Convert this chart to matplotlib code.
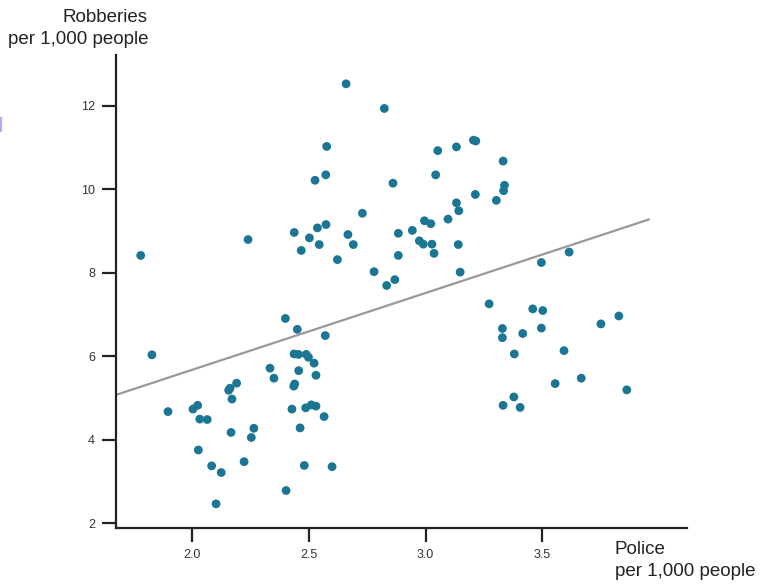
import numpy as np
import matplotlib.pyplot as plt
from matplotlib.lines import Line2D

# police per 1,000 people vs robberies per 1,000 people
police = [
    2.659, 2.823, 2.576, 2.526, 2.572, 2.860, 2.729, 2.437, 2.536, 2.573,
    2.502, 2.667, 2.544, 2.467, 2.690, 2.622, 2.239, 1.779, 2.779, 2.833,
    2.868, 2.883, 2.883,
    3.052, 3.132, 3.205, 3.215, 3.332, 3.043, 3.338, 3.334, 3.213, 3.303,
    3.132, 3.142, 3.096, 2.995, 3.022, 2.943, 2.973, 2.990, 3.027, 3.140,
    3.036, 3.148, 3.496, 3.615,
    1.827, 2.399, 2.450, 2.570, 2.436, 2.455, 2.488, 2.498, 2.522, 2.333,
    2.456, 2.530, 2.350, 2.439, 2.435, 2.190, 2.162, 2.156, 2.170, 1.896,
    2.003, 2.023, 2.032, 2.064, 2.427, 2.486, 2.510, 2.530, 2.565, 2.462,
    2.264, 2.253, 2.166, 2.026, 2.222, 2.083, 2.124, 2.480, 2.599, 2.402,
    2.102,
    3.272, 3.459, 3.502, 3.828, 3.751, 3.329, 3.496, 3.329, 3.416, 3.380,
    3.593, 3.667, 3.555, 3.862, 3.378, 3.332, 3.405,
]
robberies = [
    12.53, 11.94, 11.03, 10.22, 10.35, 10.15, 9.43, 8.97, 9.08, 9.16,
    8.84, 8.92, 8.68, 8.54, 8.68, 8.32, 8.80, 8.42, 8.03, 7.70,
    7.84, 8.95, 8.42,
    10.93, 11.02, 11.18, 11.16, 10.68, 10.35, 10.10, 9.97, 9.88, 9.74,
    9.68, 9.49, 9.29, 9.25, 9.18, 9.02, 8.77, 8.69, 8.69, 8.68,
    8.47, 8.02, 8.25, 8.50,
    6.04, 6.91, 6.65, 6.50, 6.06, 6.05, 6.05, 5.98, 5.84, 5.72,
    5.66, 5.55, 5.48, 5.34, 5.29, 5.36, 5.24, 5.19, 4.98, 4.68,
    4.74, 4.83, 4.50, 4.49, 4.74, 4.77, 4.84, 4.81, 4.56, 4.29,
    4.28, 4.06, 4.18, 3.76, 3.48, 3.38, 3.22, 3.39, 3.36, 2.79,
    2.47,
    7.26, 7.14, 7.10, 6.97, 6.78, 6.67, 6.68, 6.45, 6.55, 6.06,
    6.14, 5.48, 5.35, 5.20, 5.03, 4.83, 4.78,
]

# fitted line end points
fit_x = [1.673, 3.956]
fit_y = [5.08, 9.28]

x_ticks = [2.0, 2.5, 3.0, 3.5]
y_ticks = [2, 4, 6, 8, 10, 12]

plt.rcParams['font.family'] = ['Liberation Sans', 'DejaVu Sans']

fig = plt.figure(figsize=(7.64, 5.84), dpi=100)
ax = fig.add_axes([0.1518, 0.0959, 0.7474, 0.8099])

ax.plot(fit_x, fit_y, color="#999999", lw=1.6, zorder=2)
ax.scatter(police, robberies, s=40, color="#1b7693", edgecolors="none", zorder=3)

ax.set_xlim(1.673, 4.120)
ax.set_ylim(1.892, 13.22)
ax.set_xticks(x_ticks)
ax.set_xticklabels([f"{t:.1f}" for t in x_ticks])
ax.set_yticks(y_ticks)
ax.set_yticklabels([str(t) for t in y_ticks])

for side in ["top", "right"]:
    ax.spines[side].set_visible(False)
for side in ["left", "bottom"]:
    ax.spines[side].set_linewidth(1.6)
    ax.spines[side].set_color("#222222")

ax.tick_params(axis="both", length=10, width=1.6, color="#222222",
               labelsize=9, labelcolor="#333333", pad=5)

# axis titles, one line at a time
W, H = 764, 584
def label(px, py, s, ha):
    fig.text(px / W, 1 - py / H, s, ha=ha, va="center", fontsize=13.5, color="#222222")

label(148, 17, "Robberies", "right")
label(148, 40, "per 1,000 people", "right")
label(615, 549, "Police", "left")
label(615, 571, "per 1,000 people", "left")

# faint mark on the left edge
fig.add_artist(Line2D([1 / W, 1 / W], [1 - 118 / H, 1 - 131 / H],
                      transform=fig.transFigure, color="#b0b0f0", lw=1.5))

fig.savefig("out.png", dpi=100)
